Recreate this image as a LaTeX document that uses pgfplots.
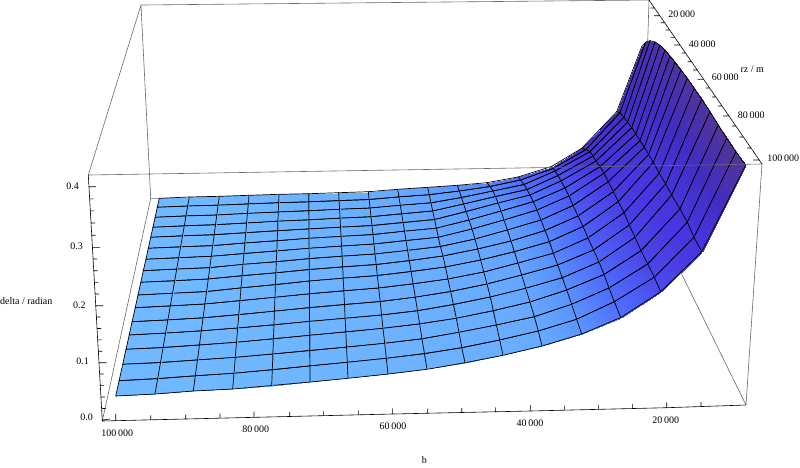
\documentclass[border=0pt]{standalone}
\usepackage{fontspec}
\setmainfont{Liberation Serif}
\usepackage{pgfplots}
\usepackage{pgfplotstable}
\pgfplotsset{compat=1.18}
\definecolor{boxgrey}{RGB}{105,105,105}
\definecolor{labelgrey}{RGB}{60,60,60}
% surface grid: one block per b value, back to front
\pgfplotstableread{
x y m
159.3 198.3 0
157.3 207.3 0
155.1 217.3 0
152.9 227.3 0
150.7 237.3 0
148.3 248.3 0
145.9 259.3 0
143.3 270.7 0
140.8 282.3 0
138.0 295.0 0
135.2 307.7 0
132.1 321.7 0
129.2 335.0 0
126.0 349.3 0
122.7 364.3 0
119.1 380.7 0
115.7 396.0 0
189.3 197.0 0
187.7 206.0 0
186.0 215.9 0
184.3 225.8 0
182.5 235.8 0
180.6 246.8 0
178.7 257.7 0
176.7 269.1 0
174.7 280.7 0
172.5 293.3 0
170.3 305.9 0
167.9 319.9 0
165.6 333.1 0
163.1 347.5 0
160.5 362.5 0
157.7 378.6 0
155.0 394.0 0
219.3 196.3 0
218.1 205.2 0
216.8 215.0 0
215.5 224.7 0
214.2 234.7 0
212.7 245.6 0
211.3 256.3 0
209.8 267.6 0
208.3 279.0 0
206.6 291.5 0
204.9 304.0 0
203.1 317.8 0
201.3 330.8 0
199.4 345.0 0
197.5 359.9 0
195.3 375.8 0
193.3 391.0 0
249.0 195.3 0.01
248.3 203.9 0.01
247.4 213.4 0.01
246.6 223.0 0.01
245.8 232.7 0.01
244.9 243.0 0.01
244.0 253.5 0.01
243.0 264.4 0.01
242.1 275.7 0.01
241.0 287.9 0.01
240.0 300.6 0.01
238.8 314.6 0.01
237.7 328.0 0.01
236.5 342.3 0.01
235.3 357.4 0.01
234.0 373.3 0.01
232.7 389.0 0.01
279.0 194.3 0.03
278.7 202.7 0.03
278.3 212.0 0.03
277.9 221.2 0.03
277.6 230.7 0.02
277.2 240.7 0.02
276.8 250.9 0.02
276.3 261.7 0.02
275.9 272.8 0.02
275.4 284.6 0.02
275.0 297.3 0.02
274.4 311.2 0.02
274.0 324.8 0.02
273.4 338.8 0.01
272.9 354.0 0.01
272.3 369.7 0.01
271.7 385.5 0.01
308.7 193.7 0.05
308.8 201.8 0.05
308.8 210.7 0.05
308.9 219.8 0.04
309.0 228.9 0.04
309.0 238.3 0.04
309.1 248.3 0.03
309.2 258.6 0.03
309.3 269.5 0.03
309.4 281.0 0.03
309.4 293.8 0.03
309.5 307.6 0.03
309.6 321.4 0.02
309.7 335.3 0.02
309.8 350.5 0.02
309.9 365.9 0.02
310.0 382.0 0.02
338.7 192.7 0.07
339.1 200.6 0.07
339.6 209.3 0.07
340.1 218.2 0.06
340.5 227.2 0.06
341.1 236.4 0.06
341.6 246.1 0.05
342.1 256.2 0.05
342.7 266.9 0.05
343.2 278.2 0.05
343.8 290.8 0.04
344.5 304.5 0.04
345.1 318.3 0.04
345.8 331.9 0.04
346.5 347.1 0.03
347.3 362.3 0.03
348.0 378.3 0.03
368.3 191.7 0.10
369.1 199.5 0.10
370.1 208.0 0.09
371.0 216.7 0.09
372.0 225.5 0.08
372.9 234.5 0.08
374.0 244.0 0.07
375.0 254.0 0.07
376.2 264.5 0.06
377.3 275.5 0.06
378.7 288.0 0.06
380.2 301.5 0.05
381.6 315.0 0.05
383.0 328.3 0.05
384.7 343.3 0.05
386.3 358.3 0.04
388.0 374.0 0.04
397.7 189.3 0.14
398.9 196.9 0.13
400.3 205.3 0.13
401.7 213.8 0.12
403.1 222.5 0.11
404.5 231.2 0.11
406.0 240.5 0.10
407.6 250.4 0.09
409.3 260.6 0.08
411.1 271.5 0.08
413.1 283.8 0.08
415.3 297.2 0.07
417.5 310.7 0.07
419.6 323.9 0.06
422.0 338.8 0.06
424.4 353.6 0.05
427.0 369.3 0.05
427.7 187.3 0.20
429.3 194.7 0.19
431.0 202.8 0.18
432.7 211.0 0.16
434.5 219.5 0.15
436.4 228.2 0.14
438.3 237.3 0.13
440.3 246.5 0.11
443.0 256.0 0.10
445.4 267.0 0.10
448.0 279.0 0.09
450.6 291.5 0.09
453.4 304.5 0.08
456.3 318.3 0.08
459.0 332.3 0.07
461.8 347.7 0.07
465.0 362.7 0.06
457.3 185.3 0.30
459.3 191.0 0.28
461.4 197.5 0.26
463.6 204.0 0.24
466.1 211.5 0.22
469.0 220.0 0.20
472.0 229.0 0.18
475.0 239.0 0.17
477.7 249.0 0.15
480.6 260.0 0.14
483.8 272.0 0.13
487.0 284.0 0.12
490.3 297.0 0.11
493.3 310.7 0.10
496.4 325.0 0.10
499.7 340.0 0.09
503.0 355.3 0.08
486.7 182.7 0.38
490.0 186.5 0.36
493.0 191.0 0.34
495.5 196.5 0.32
498.0 203.0 0.30
501.0 211.0 0.28
504.0 220.0 0.25
507.3 230.0 0.22
511.0 241.0 0.20
514.3 251.7 0.19
518.0 263.0 0.18
521.7 275.0 0.17
525.7 288.3 0.16
530.0 302.0 0.15
534.3 316.7 0.14
538.3 331.0 0.13
542.0 346.0 0.12
518.0 177.0 0.50
520.5 180.0 0.49
524.0 184.5 0.48
527.0 189.5 0.47
530.0 195.0 0.45
533.3 201.7 0.44
537.0 210.0 0.42
541.0 220.0 0.40
545.0 230.5 0.38
549.3 241.7 0.37
553.3 253.3 0.36
557.7 265.0 0.35
562.3 277.7 0.34
566.7 290.0 0.33
571.7 304.3 0.32
576.7 319.3 0.31
581.7 334.0 0.30
551.5 166.5 0.62
553.0 168.5 0.61
555.0 171.0 0.60
558.0 175.5 0.59
561.0 181.0 0.58
565.0 188.0 0.57
569.0 196.0 0.56
573.0 205.5 0.56
578.0 216.0 0.55
583.0 226.5 0.54
588.0 238.0 0.53
593.5 250.0 0.52
599.0 262.0 0.51
604.0 274.5 0.50
609.0 288.0 0.49
614.3 301.7 0.48
620.7 317.5 0.47
581.7 148.3 0.78
586.0 149.5 0.77
590.0 151.7 0.76
593.0 156.0 0.75
596.0 161.0 0.74
600.0 166.7 0.72
604.0 173.3 0.71
608.3 181.7 0.70
613.3 191.7 0.68
618.3 201.7 0.67
624.0 212.7 0.67
629.3 225.0 0.66
635.0 237.3 0.65
641.0 250.7 0.65
647.7 264.0 0.64
654.3 277.3 0.63
660.7 291.7 0.62
616.7 111.7 0.85
620.0 112.7 0.84
624.0 117.3 0.83
627.7 122.3 0.82
631.7 127.7 0.80
636.0 134.0 0.79
640.0 140.7 0.78
644.3 147.3 0.76
648.7 154.3 0.74
653.3 162.5 0.74
659.3 173.3 0.74
665.7 184.0 0.73
671.7 195.0 0.73
680.0 209.0 0.73
687.3 222.3 0.72
694.0 237.3 0.72
701.7 251.7 0.72
641.7 46.7 0.90
645.7 42.3 0.91
650.0 40.7 0.92
655.0 42.0 0.93
660.0 45.3 0.94
665.0 50.0 0.94
670.0 56.0 0.95
675.0 62.3 0.96
681.0 70.0 0.97
687.3 78.3 0.97
694.3 88.3 0.98
701.7 99.3 0.98
710.0 111.7 0.99
718.3 125.0 0.99
726.7 138.3 1.00
736.0 151.7 1.00
745.7 165.0 1.00
}\surfdata
\begin{document}
\begin{tikzpicture}[x=1pt,y=1pt]
\path[use as bounding box] (0,0) rectangle (800,467);
\begin{axis}[
    at={(0pt,0pt)}, anchor=south west,
    scale only axis, width=800pt, height=467pt,
    hide axis, clip=false,
    view={0}{90},
    xmin=0, xmax=800, ymin=0, ymax=467, zmin=-1, zmax=2,
    y dir=reverse,
    point meta min=0, point meta max=1,
    unbounded coords=jump,
    colormap={mma}{
      rgb255(0)=(112,184,255)
      rgb255(30)=(90,150,255)
      rgb255(50)=(78,105,252)
      rgb255(70)=(72,55,225)
      rgb255(85)=(66,45,195)
      rgb255(100)=(82,52,150)},
    every node/.style={font=\fontsize{10}{12}\selectfont, text=labelgrey, inner sep=0pt}]
  % box edges behind the surface
  \addplot3[boxgrey, line width=0.6pt, no markers] table {
    141 5 0
    649 0 0
    nan nan nan
    141 5 0
    88.3 175 0
    nan nan nan
    141 5 0
    150.7 198.3 0
    159 198.3 0
    nan nan nan
    150.7 198.3 0
    102.3 421 0
    nan nan nan
    649 0 0
    647.7 42 0
    nan nan nan
    762 164 0
    746 405 0
    nan nan nan
    746 405 0
    660 230 0
  };
  \addplot3[surf, shader=faceted interp, faceted color=black, line width=0.7pt,
    mesh/rows=17, mesh/cols=17, point meta=\thisrow{m}]
    table[x=x, y=y, z=m] {\surfdata};
  % front edge of the box runs over the surface
  \addplot3[boxgrey, line width=0.6pt, no markers] coordinates {(88.3,175,0) (762,164,0)};
  % axis lines and ticks
  \addplot3[black, line width=0.6pt, no markers] table {
    88.3 175 0
    102.3 421 0
    nan nan nan
    102.3 421 0
    392.3 414 0
    530.3 411 0
    666.7 407.7 0
    746 405 0
    nan nan nan
    649 0 0
    762 164 0
    nan nan nan
    89 186.7 0
    96 186.7 0
    nan nan nan
    89.6 198.8 0
    93.6 198.8 0
    nan nan nan
    90.3 210.9 0
    94.3 210.9 0
    nan nan nan
    91 223 0
    95 223 0
    nan nan nan
    91.6 235.2 0
    95.6 235.2 0
    nan nan nan
    92.3 247.3 0
    100 247.3 0
    nan nan nan
    93 259 0
    97 259 0
    nan nan nan
    93.7 270.7 0
    97.7 270.7 0
    nan nan nan
    94.4 282.4 0
    98.4 282.4 0
    nan nan nan
    95 294 0
    99 294 0
    nan nan nan
    95.7 305.7 0
    103 305.7 0
    nan nan nan
    96.3 317 0
    100.3 317 0
    nan nan nan
    97 328.5 0
    101 328.5 0
    nan nan nan
    97.6 339.8 0
    101.6 339.8 0
    nan nan nan
    98.3 351.2 0
    102.3 351.2 0
    nan nan nan
    98.9 362.7 0
    106.7 362.7 0
    nan nan nan
    99.6 374 0
    103.6 374 0
    nan nan nan
    100.2 385.4 0
    104.2 385.4 0
    nan nan nan
    100.9 397 0
    104.9 397 0
    nan nan nan
    101.6 408.5 0
    105.6 408.5 0
    nan nan nan
    102.3 420 0
    110 419 0
    nan nan nan
    115.7 420.7 0
    115.7 414 0
    nan nan nan
    150.7 419.8 0
    150.7 415.3 0
    nan nan nan
    185.7 419 0
    185.7 414.5 0
    nan nan nan
    220 418.2 0
    220 413.7 0
    nan nan nan
    254 417.4 0
    254 411.7 0
    nan nan nan
    289.7 416.5 0
    289.7 412 0
    nan nan nan
    323.3 415.7 0
    323.3 411.2 0
    nan nan nan
    358.3 414.8 0
    358.3 410.3 0
    nan nan nan
    392.3 414 0
    392.3 408.3 0
    nan nan nan
    427.3 413.2 0
    427.3 408.7 0
    nan nan nan
    461.7 412.5 0
    461.7 408 0
    nan nan nan
    495.3 411.8 0
    495.3 407.3 0
    nan nan nan
    530.3 411 0
    530.3 405 0
    nan nan nan
    564.3 410.2 0
    564.3 405.7 0
    nan nan nan
    598.3 409.4 0
    598.3 404.9 0
    nan nan nan
    632.3 408.5 0
    632.3 404 0
    nan nan nan
    666.7 407.7 0
    666.7 402.3 0
    nan nan nan
    701 406.7 0
    701 402.2 0
    nan nan nan
    654.5 8 0
    650.5 8 0
    nan nan nan
    659.8 15.7 0
    653.8 15.7 0
    nan nan nan
    664.6 22.7 0
    660.6 22.7 0
    nan nan nan
    669.7 30 0
    665.7 30 0
    nan nan nan
    674.7 37.3 0
    670.7 37.3 0
    nan nan nan
    680 45 0
    674 45 0
    nan nan nan
    685.5 53 0
    681.5 53 0
    nan nan nan
    691.5 61.7 0
    687.5 61.7 0
    nan nan nan
    697.2 70 0
    693.2 70 0
    nan nan nan
    703.6 79.3 0
    697.6 79.3 0
    nan nan nan
    709.6 88 0
    705.6 88 0
    nan nan nan
    715.8 97 0
    711.8 97 0
    nan nan nan
    722 106 0
    718 106 0
    nan nan nan
    729 116 0
    723 116 0
    nan nan nan
    735.8 126 0
    731.8 126 0
    nan nan nan
    743.4 137 0
    739.4 137 0
    nan nan nan
    751 148 0
    747 148 0
    nan nan nan
    759 160 0
    753 160 0
  };
  % labels
  \node at (axis cs:72.7,186.7,0) {0.4};
  \node at (axis cs:76.7,246.7,0) {0.3};
  \node at (axis cs:79.3,305,0) {0.2};
  \node at (axis cs:82.7,361.7,0) {0.1};
  \node at (axis cs:86.7,417.3,0) {0.0};
  \node at (axis cs:26.3,301,0) {delta / radian};
  \node at (axis cs:117.3,433.3,0) {100\,000};
  \node at (axis cs:255.7,429.3,0) {80\,000};
  \node at (axis cs:393,426.7,0) {60\,000};
  \node at (axis cs:530,423.3,0) {40\,000};
  \node at (axis cs:665.7,420.3,0) {20\,000};
  \node at (axis cs:424.3,460,0) {b};
  \node at (axis cs:681.7,14.3,0) {20\,000};
  \node at (axis cs:702.3,44.3,0) {40\,000};
  \node at (axis cs:725.3,77.3,0) {60\,000};
  \node at (axis cs:752.3,69,0) {rz / m};
  \node at (axis cs:751.3,115.7,0) {80\,000};
  \node at (axis cs:783.3,158.3,0) {100\,000};
\end{axis}
\end{tikzpicture}
\end{document}
